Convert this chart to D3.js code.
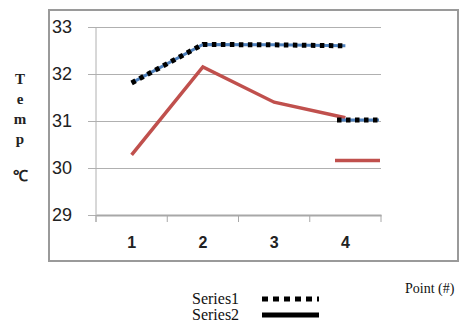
<!DOCTYPE html>
<html>
<head>
<meta charset="utf-8">
<script src="https://cdn.jsdelivr.net/npm/d3@7"></script>
<style>
	body { margin: 0; background: #fff; }
</style>
</head>
<body>
<script>
// chart values
var points = ["1", "2", "3", "4"];
var series1 = [31.81, 32.63, 32.62, 32.6];
var series2 = [30.28, 32.15, 31.4, 31.07];
var yTicks = [29, 30, 31, 32, 33];
var legendNames = ["Series1", "Series2"];
var keyLevels = [31.02, 30.16]; // stray legend keys inside the plot
var yLabel = ["T", "e", "m", "p", "\u2103"];

var svg = d3.select("body").append("svg")
	.attr("width", 462)
	.attr("height", 324);

// outer frame
svg.append("rect")
	.attr("x", 49).attr("y", 10)
	.attr("width", 409).attr("height", 251)
	.style("fill", "none")
	.style("stroke", "#9a9a9a")
	.style("stroke-width", "2px");

var x = d3.scaleBand().domain(points).range([96, 381]);
var y = d3.scaleLinear().domain([29, 33]).range([215, 27]);

// gridlines + y ticks
svg.append("g")
	.attr("transform", "translate(96,0)")
	.call(d3.axisLeft(y).tickValues(yTicks).tickFormat(d3.format("d")).tickSize(-285).tickSizeOuter(0))
	.call(function(g) {
		g.select(".domain").remove();
		g.selectAll(".tick line").attr("x1", -8).style("stroke", "#b0b0b0");
		g.selectAll(".tick text")
			.attr("x", -44)
			.style("text-anchor", "start")
			.style("font-family", "Liberation Sans, Arial, sans-serif")
			.style("font-size", "18px")
			.style("fill", "#222");
	});

// vertical axis line
svg.append("line")
	.attr("x1", 96).attr("x2", 96)
	.attr("y1", y(33)).attr("y2", 222)
	.style("stroke", "#b0b0b0");

// x axis
var xa = svg.append("g")
	.attr("transform", "translate(0,215)")
	.call(d3.axisBottom(x).tickSize(0).tickPadding(22));
xa.select(".domain").style("stroke", "#a8a8a8").style("stroke-width", "2px");
xa.selectAll(".tick text")
	.style("font-family", "Liberation Sans, Arial, sans-serif")
	.style("font-weight", "bold")
	.style("font-size", "16px")
	.style("fill", "#222");
xa.selectAll(".bound")
	.data(d3.range(points.length + 1))
	.enter().append("line")
	.attr("x1", function(i) { return 96 + i * x.bandwidth(); })
	.attr("x2", function(i) { return 96 + i * x.bandwidth(); })
	.attr("y1", 0).attr("y2", 7)
	.style("stroke", "#a8a8a8");

var line = d3.line()
	.x(function(d, i) { return x(points[i]) + x.bandwidth() / 2; })
	.y(function(d) { return y(d); });

// series 2 (red)
svg.append("path")
	.attr("d", line(series2))
	.style("fill", "none")
	.style("stroke", "#c0504d")
	.style("stroke-width", "3.5px");

// series 1 (blue with black dots)
svg.append("path")
	.attr("d", line(series1))
	.style("fill", "none")
	.style("stroke", "#4f81bd")
	.style("stroke-width", "3px");
svg.append("path")
	.attr("d", line(series1))
	.style("fill", "none")
	.style("stroke", "#000")
	.style("stroke-width", "5px")
	.style("stroke-dasharray", "4.5,4.5");

// keys inside plot
svg.append("line")
	.attr("x1", 337).attr("x2", 379)
	.attr("y1", y(keyLevels[0])).attr("y2", y(keyLevels[0]))
	.style("stroke", "#4f81bd").style("stroke-width", "3px");
svg.append("line")
	.attr("x1", 337).attr("x2", 379)
	.attr("y1", y(keyLevels[0])).attr("y2", y(keyLevels[0]))
	.style("stroke", "#000").style("stroke-width", "5px")
	.style("stroke-dasharray", "4.5,4.5");
svg.append("line")
	.attr("x1", 335).attr("x2", 380)
	.attr("y1", y(keyLevels[1])).attr("y2", y(keyLevels[1]))
	.style("stroke", "#c0504d").style("stroke-width", "3.5px");

// vertical y label
svg.selectAll(".ylab")
	.data(yLabel)
	.enter().append("text")
	.attr("x", 20)
	.attr("y", function(d, i) { return i < 4 ? 84 + i * 20 : 181; })
	.style("text-anchor", "middle")
	.style("font-family", "Liberation Serif, Times New Roman, serif")
	.style("font-weight", "bold")
	.style("font-size", "15px")
	.style("fill", "#222")
	.text(function(d) { return d; });

// axis title
svg.append("text")
	.attr("x", 405).attr("y", 293)
	.style("font-family", "Liberation Serif, Times New Roman, serif")
	.style("font-size", "14px")
	.style("fill", "#111")
	.text("Point (#)");

// bottom legend
var leg = svg.selectAll(".leg")
	.data(legendNames)
	.enter().append("g")
	.attr("transform", function(d, i) { return "translate(192," + (304 + i * 16) + ")"; });
leg.append("text")
	.style("font-family", "Liberation Serif, Times New Roman, serif")
	.style("font-size", "16px")
	.style("fill", "#111")
	.text(function(d) { return d; });
leg.append("line")
	.attr("x1", 70).attr("x2", 127)
	.attr("y1", -5).attr("y2", -5)
	.style("stroke", "#000")
	.style("stroke-width", "5px")
	.style("stroke-dasharray", function(d, i) { return i === 0 ? "6,5" : null; });
</script>
</body>
</html>
